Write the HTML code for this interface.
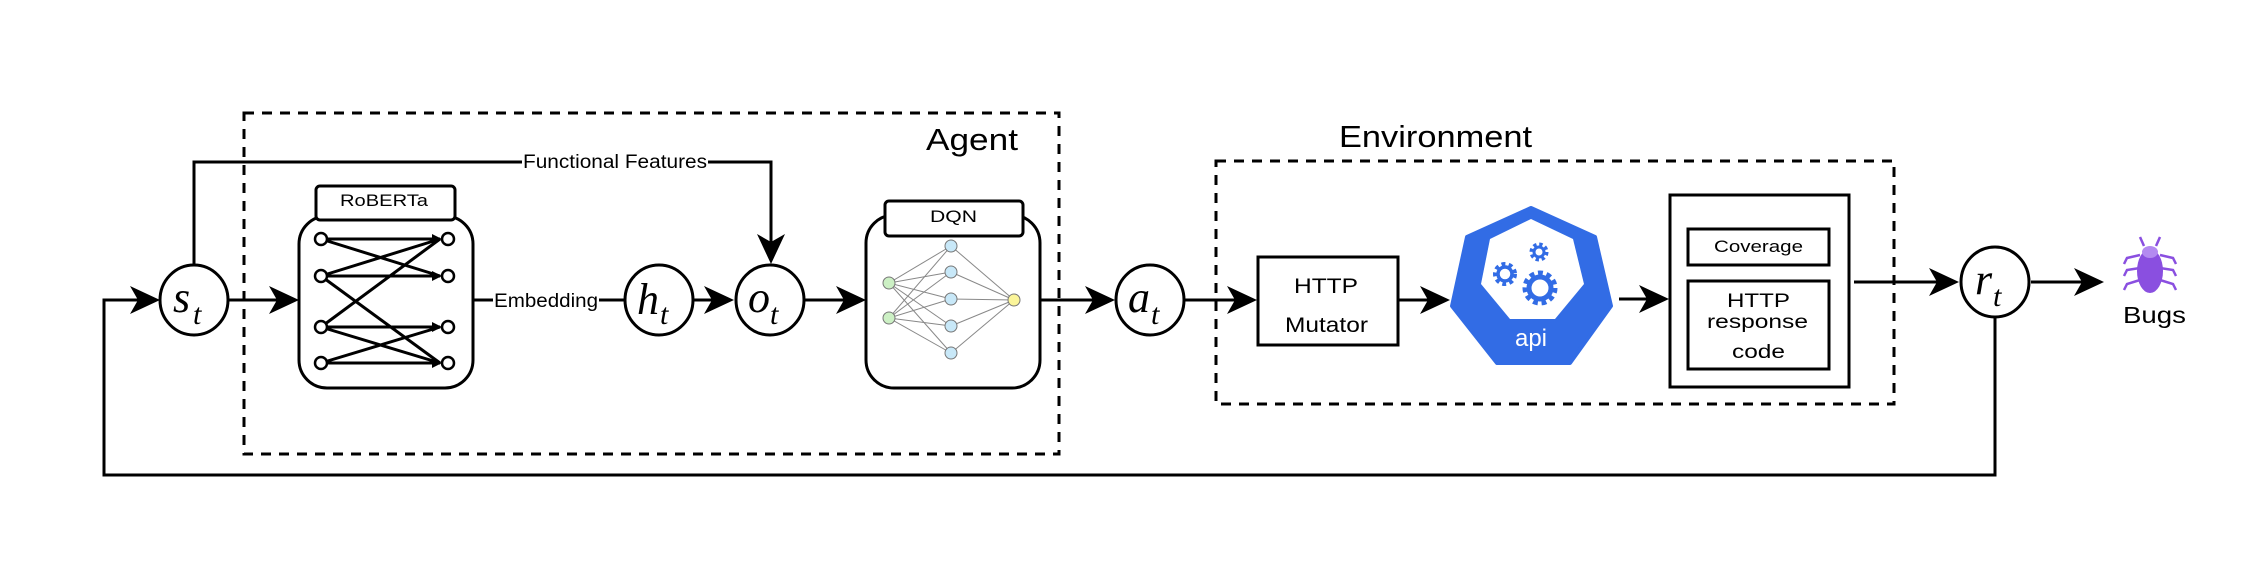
<!DOCTYPE html>
<html><head><meta charset="utf-8"><style>
html,body{margin:0;padding:0;background:#fff;}
svg{display:block;}
text{font-family:"Liberation Sans",sans-serif;}
.m{font-family:"Liberation Serif",serif;font-style:italic;}
</style></head><body>
<svg width="2256" height="564" viewBox="0 0 2256 564" xmlns="http://www.w3.org/2000/svg">
<g fill="none" stroke="#000" stroke-width="3">
<rect x="244" y="113" width="815" height="341" stroke-dasharray="10,8"/>
<rect x="1216" y="161" width="678" height="243" stroke-dasharray="10,8"/>
<polyline points="1995,318 1995,475 104,475 104,300 145,300"/>
<polyline points="194,265 194,162 771,162 771,250"/>
<line x1="229" y1="300" x2="285" y2="300"/>
<line x1="473" y1="300" x2="624" y2="300"/>
<line x1="694" y1="300" x2="720" y2="300"/>
<line x1="805" y1="300" x2="852" y2="300"/>
<line x1="1040" y1="300" x2="1100" y2="300"/>
<line x1="1185" y1="300" x2="1242" y2="300"/>
<line x1="1398" y1="300" x2="1436" y2="300"/>
<line x1="1619" y1="299" x2="1656" y2="299"/>
<line x1="1854" y1="282" x2="1944" y2="282"/>
<line x1="2031" y1="282" x2="2090" y2="282"/>
</g>
<g fill="#000">
<polygon points="160,300 130,286 138,300 130,314"/>
<polygon points="299,300 269,286 277,300 269,314"/>
<polygon points="734,300 704,286 712,300 704,314"/>
<polygon points="866,300 836,286 844,300 836,314"/>
<polygon points="1115,300 1085,286 1093,300 1085,314"/>
<polygon points="1257,300 1227,286 1235,300 1227,314"/>
<polygon points="1450,300 1420,286 1428,300 1420,314"/>
<polygon points="1669,299 1639,285 1647,299 1639,313"/>
<polygon points="1959,282 1929,268 1937,282 1929,296"/>
<polygon points="2104,282 2074,268 2082,282 2074,296"/>
<polygon points="771,264 757,234 771,242 785,234"/>
</g>
<g fill="#fff" stroke="#000" stroke-width="3">
<ellipse cx="194" cy="300" rx="34" ry="35"/>
<ellipse cx="659" cy="300" rx="34" ry="35"/>
<ellipse cx="770" cy="300" rx="34" ry="35"/>
<ellipse cx="1150" cy="300" rx="34" ry="35"/>
<ellipse cx="1995" cy="282" rx="34" ry="35"/>
</g>
<g font-size="44">
<text x="173" y="312" class="m">s</text><text x="193" y="324" font-size="30" class="m">t</text>
<text x="637" y="314" class="m">h</text><text x="660" y="324" font-size="30" class="m">t</text>
<text x="748" y="312" class="m">o</text><text x="770" y="324" font-size="30" class="m">t</text>
<text x="1128" y="312" class="m">a</text><text x="1151" y="324" font-size="30" class="m">t</text>
<text x="1975" y="294" class="m">r</text><text x="1993" y="306" font-size="30" class="m">t</text>
</g>
<rect x="522" y="150" width="186" height="22" fill="#fff"/>
<text x="523" y="168" font-size="19" textLength="184" lengthAdjust="spacingAndGlyphs">Functional Features</text>
<rect x="493" y="288" width="106" height="22" fill="#fff"/>
<text x="494" y="307" font-size="19" textLength="104" lengthAdjust="spacingAndGlyphs">Embedding</text>
<text x="926" y="150" font-size="31" textLength="92" lengthAdjust="spacingAndGlyphs">Agent</text>
<text x="1339" y="147" font-size="31" textLength="193" lengthAdjust="spacingAndGlyphs">Environment</text>
<rect x="299" y="216" width="174" height="172" rx="28" fill="#fff" stroke="#000" stroke-width="3"/>
<rect x="316" y="186" width="139" height="34" rx="4" fill="#fff" stroke="#000" stroke-width="3"/>
<text x="340" y="206" font-size="17" textLength="88" lengthAdjust="spacingAndGlyphs">RoBERTa</text>
<g stroke="#000" stroke-width="3">
<line x1="321" y1="239" x2="440" y2="239"/><line x1="321" y1="276" x2="440" y2="276"/>
<line x1="321" y1="327" x2="440" y2="327"/><line x1="321" y1="363" x2="440" y2="363"/>
<line x1="321" y1="239" x2="440" y2="276"/><line x1="321" y1="276" x2="440" y2="239"/>
<line x1="321" y1="327" x2="440" y2="363"/><line x1="321" y1="363" x2="440" y2="327"/>
<line x1="321" y1="276" x2="440" y2="363"/><line x1="321" y1="327" x2="440" y2="239"/>
</g>
<g fill="#000">
<polygon points="442,239 432,234 432,244"/><polygon points="442,276 432,271 432,281"/>
<polygon points="442,327 432,322 432,332"/><polygon points="442,363 432,358 432,368"/>
</g>
<g fill="#fff" stroke="#000" stroke-width="2.5">
<circle cx="321" cy="239" r="6"/><circle cx="321" cy="276" r="6"/><circle cx="321" cy="327" r="6"/><circle cx="321" cy="363" r="6"/>
<circle cx="448" cy="239" r="6"/><circle cx="448" cy="276" r="6"/><circle cx="448" cy="327" r="6"/><circle cx="448" cy="363" r="6"/>
</g>
<rect x="866" y="215" width="174" height="173" rx="28" fill="#fff" stroke="#000" stroke-width="3"/>
<rect x="885" y="201" width="138" height="35" rx="4" fill="#fff" stroke="#000" stroke-width="3"/>
<text x="930" y="222" font-size="17" textLength="47" lengthAdjust="spacingAndGlyphs">DQN</text>
<g stroke="#888" stroke-width="1">
<line x1="889" y1="283" x2="951" y2="246"/><line x1="889" y1="283" x2="951" y2="272"/><line x1="889" y1="283" x2="951" y2="299"/><line x1="889" y1="283" x2="951" y2="326"/><line x1="889" y1="283" x2="951" y2="353"/>
<line x1="889" y1="318" x2="951" y2="246"/><line x1="889" y1="318" x2="951" y2="272"/><line x1="889" y1="318" x2="951" y2="299"/><line x1="889" y1="318" x2="951" y2="326"/><line x1="889" y1="318" x2="951" y2="353"/>
<line x1="951" y1="246" x2="1014" y2="300"/><line x1="951" y1="272" x2="1014" y2="300"/><line x1="951" y1="299" x2="1014" y2="300"/><line x1="951" y1="326" x2="1014" y2="300"/><line x1="951" y1="353" x2="1014" y2="300"/>
</g>
<g stroke="#777" stroke-width="1">
<circle cx="889" cy="283" r="6" fill="#ccf0c4"/><circle cx="889" cy="318" r="6" fill="#ccf0c4"/>
<circle cx="951" cy="246" r="6" fill="#c8e8f8"/><circle cx="951" cy="272" r="6" fill="#c8e8f8"/><circle cx="951" cy="299" r="6" fill="#c8e8f8"/><circle cx="951" cy="326" r="6" fill="#c8e8f8"/><circle cx="951" cy="353" r="6" fill="#c8e8f8"/>
<circle cx="1014" cy="300" r="6" fill="#fbf59a"/>
</g>
<rect x="1258" y="257" width="140" height="88" fill="#fff" stroke="#000" stroke-width="3"/>
<text x="1294" y="293" font-size="21" textLength="64" lengthAdjust="spacingAndGlyphs">HTTP</text>
<text x="1285" y="332" font-size="21" textLength="83" lengthAdjust="spacingAndGlyphs">Mutator</text>
<polygon points="1531,208 1595,237 1611,306 1570,363 1497,363 1452,306 1467,237" fill="#326ce5" stroke="#326ce5" stroke-width="4" stroke-linejoin="round"/>
<polygon points="1531,219 1573,239 1584,284 1555,319 1510,319 1481,284 1490,239" fill="#fff"/>
<g fill="none" stroke="#326ce5">
<circle cx="1539" cy="252" r="7" stroke-width="5" stroke-dasharray="3,2.5"/>
<circle cx="1539" cy="252" r="5" stroke-width="3"/>
<circle cx="1505" cy="274" r="9" stroke-width="6" stroke-dasharray="3.5,3"/>
<circle cx="1505" cy="274" r="7" stroke-width="3.5"/>
<circle cx="1540" cy="288" r="14" stroke-width="7" stroke-dasharray="4.5,3.5"/>
<circle cx="1540" cy="288" r="11" stroke-width="5"/>
</g>
<text x="1531" y="346" font-size="24" fill="#fff" text-anchor="middle">api</text>
<rect x="1670" y="195" width="179" height="192" fill="#fff" stroke="#000" stroke-width="3"/>
<rect x="1688" y="229" width="141" height="36" fill="#fff" stroke="#000" stroke-width="3"/>
<text x="1714" y="252" font-size="17" textLength="89" lengthAdjust="spacingAndGlyphs">Coverage</text>
<rect x="1688" y="281" width="141" height="88" fill="#fff" stroke="#000" stroke-width="3"/>
<text x="1727" y="307" font-size="19" textLength="63" lengthAdjust="spacingAndGlyphs">HTTP</text>
<text x="1707" y="328" font-size="19" textLength="101" lengthAdjust="spacingAndGlyphs">response</text>
<text x="1732" y="358" font-size="19" textLength="53" lengthAdjust="spacingAndGlyphs">code</text>
<g stroke="#8a4fe0" stroke-width="2.5" fill="none">
<line x1="2144" y1="246" x2="2140" y2="237"/><line x1="2156" y1="246" x2="2160" y2="237"/>
<polyline points="2140,255 2127,258 2124,264"/><polyline points="2160,255 2173,258 2176,264"/>
<polyline points="2140,268 2127,270 2124,276"/><polyline points="2160,268 2173,270 2176,276"/>
<polyline points="2140,280 2127,284 2124,290"/><polyline points="2160,280 2173,284 2176,290"/>
</g>
<ellipse cx="2150" cy="271" rx="13" ry="22" fill="#8a4fe0"/>
<ellipse cx="2150" cy="252" rx="8" ry="6" fill="#b38af0"/>
<text x="2123" y="323" font-size="23" textLength="63" lengthAdjust="spacingAndGlyphs">Bugs</text>
</svg>
</body></html>
